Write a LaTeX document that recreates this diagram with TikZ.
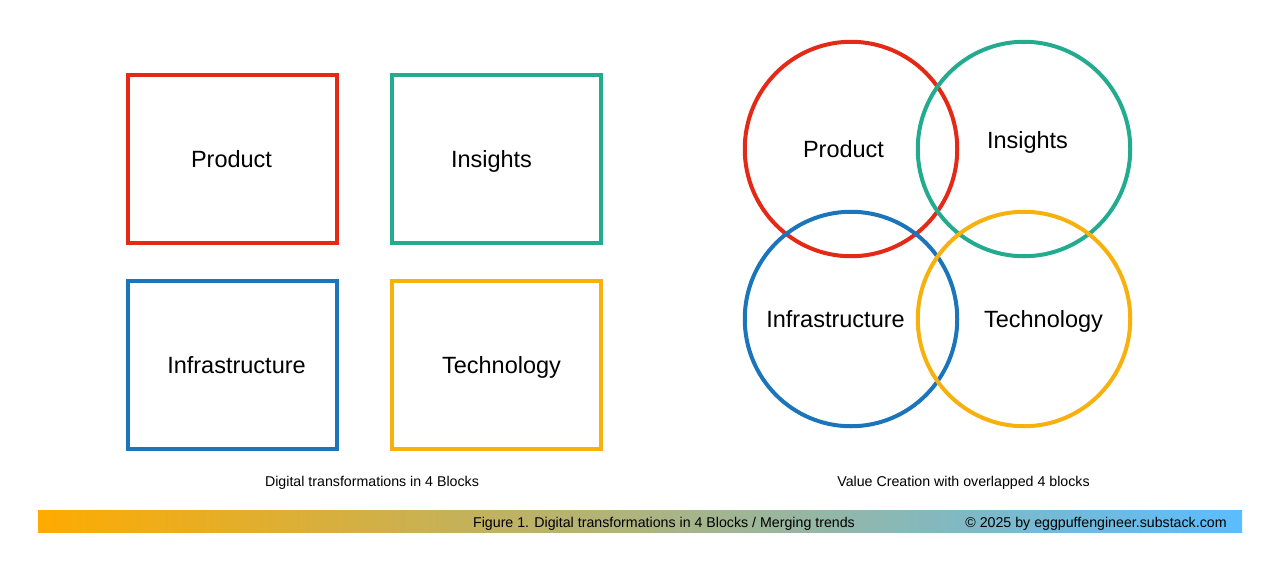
\documentclass[tikz,border=0pt]{standalone}
\usepackage{fontspec}
\usetikzlibrary{shapes.geometric}
\setmainfont{Liberation Sans}
\definecolor{cred}{HTML}{E42A17}
\definecolor{cteal}{HTML}{22AB8E}
\definecolor{cblue}{HTML}{1B75BB}
\definecolor{cyellow}{HTML}{F8B00C}
\definecolor{barL}{HTML}{FFAB00}
\definecolor{barR}{HTML}{5ABDFF}
\tikzset{
  blockbox/.style={draw=#1,line width=4pt,minimum width=209pt,minimum height=168pt,inner sep=0pt,outer sep=0pt},
  blockring/.style={draw=#1,line width=4pt,ellipse,minimum width=212.5pt,minimum height=214.5pt,inner sep=0pt,outer sep=0pt},
  biglabel/.style={font=\fontsize{23.5}{26}\selectfont,text=black,inner sep=0pt,anchor=base},
  smalllabel/.style={font=\fontsize{14.2}{16}\selectfont,text=black,inner sep=0pt,anchor=base},
}
\begin{document}
\begin{tikzpicture}[x=1pt,y=-1pt]
\useasboundingbox[fill=white] (0,0) rectangle (1286,579);
% boxes
\node[blockbox=cred]    (bp) at (232.5,159) {};
\node[blockbox=cteal]   (bi) at (496.5,159) {};
\node[blockbox=cblue]   (bf) at (232.5,365) {};
\node[blockbox=cyellow] (bt) at (496.5,365) {};
\node[biglabel] (lbp) at (231.5,167.5) {Product};
\node[biglabel] (lbi) at (491.5,167.5) {Insights};
\node[biglabel] (lbf) at (236.5,373.5) {Infrastructure};
\node[biglabel] (lbt) at (501.5,373.5) {Technology};
% circles, in stacking order
\node[blockring=cred]    (cp) at (851,149) {};
\node[blockring=cteal]   (ci) at (1024,149) {};
\node[blockring=cblue]   (cf) at (851,319) {};
\node[blockring=cyellow] (ct) at (1024,319) {};
\node[biglabel] (lcp) at (843.5,157.5) {Product};
\node[biglabel] (lci) at (1027.5,148.5) {Insights};
\node[biglabel] (lcf) at (835.5,327.5) {Infrastructure};
\node[biglabel] (lct) at (1043.5,327.5) {Technology};
% captions
\node[smalllabel] (capl) at (372,486) {Digital transformations in 4 Blocks};
\node[smalllabel] (capr) at (963.5,486) {Value Creation with overlapped 4 blocks};
% footer bar
\node[left color=barL,right color=barR,draw=none,minimum width=1204pt,minimum height=22.5pt,inner sep=0pt,outer sep=0pt] (bar) at (640,521.5) {};
\node[smalllabel] (figt) at (664,527) {Figure 1. Digital transformations in 4 Blocks / Merging trends};
\node[smalllabel] (copy) at (1096,527) {© 2025 by eggpuffengineer.substack.com};
\end{tikzpicture}
\end{document}
